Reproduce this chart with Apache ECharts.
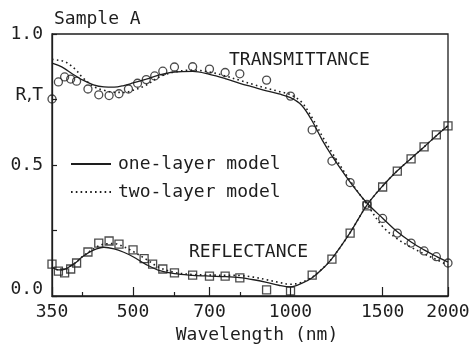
<!DOCTYPE html>
<html>
<head>
<meta charset="utf-8">
<script src="https://cdn.jsdelivr.net/npm/echarts@6/dist/echarts.min.js"></script>
<style>
html,body{margin:0;padding:0;background:#fff;}
#chart{width:471px;height:347px;}
</style>
</head>
<body>
<div id="chart"></div>
<script>
// Measured transmittance (circles)
var tWavelengths = [350, 360, 370, 380, 390, 410, 430, 450, 470, 490, 510, 530, 550, 570, 600, 650, 700, 750, 800, 900, 1000, 1100, 1200, 1300, 1400, 1500, 1600, 1700, 1800, 1900, 2000];
var tMeasured = [0.752, 0.817, 0.836, 0.828, 0.82, 0.79, 0.768, 0.765, 0.772, 0.79, 0.812, 0.826, 0.84, 0.858, 0.874, 0.875, 0.866, 0.853, 0.848, 0.824, 0.763, 0.634, 0.515, 0.433, 0.35, 0.296, 0.24, 0.202, 0.172, 0.15, 0.126];
// Measured reflectance (squares)
var rWavelengths = [350, 360, 370, 380, 390, 410, 430, 450, 470, 500, 525, 545, 570, 600, 650, 700, 750, 800, 900, 1000, 1100, 1200, 1300, 1400, 1500, 1600, 1700, 1800, 1900, 2000];
var rMeasured = [0.122, 0.095, 0.088, 0.103, 0.126, 0.168, 0.202, 0.21, 0.198, 0.176, 0.143, 0.122, 0.103, 0.088, 0.08, 0.076, 0.076, 0.069, 0.023, 0.019, 0.08, 0.141, 0.24, 0.344, 0.416, 0.477, 0.523, 0.569, 0.615, 0.649];
// Model curves
var modelWavelengths = [350, 360, 370, 380, 390, 400, 420, 440, 460, 480, 500, 530, 560, 600, 650, 700, 750, 800, 850, 900, 950, 1000, 1050, 1100, 1150, 1200, 1300, 1400, 1500, 1600, 1700, 1800, 1900, 2000];
var tOneLayer = [0.889, 0.880, 0.868, 0.852, 0.838, 0.825, 0.806, 0.798, 0.797, 0.803, 0.813, 0.828, 0.843, 0.855, 0.857, 0.846, 0.83, 0.812, 0.797, 0.783, 0.771, 0.757, 0.728, 0.668, 0.595, 0.535, 0.435, 0.355, 0.297, 0.245, 0.206, 0.176, 0.151, 0.129];
var tTwoLayer = [0.903, 0.900, 0.895, 0.880, 0.860, 0.835, 0.800, 0.785, 0.778, 0.777, 0.785, 0.805, 0.835, 0.855, 0.862, 0.855, 0.84, 0.823, 0.807, 0.793, 0.781, 0.768, 0.74, 0.68, 0.61, 0.548, 0.44, 0.35, 0.265, 0.218, 0.186, 0.161, 0.139, 0.118];
var rOneLayer = [0.11, 0.10, 0.102, 0.115, 0.13, 0.15, 0.175, 0.186, 0.18, 0.167, 0.15, 0.12, 0.098, 0.085, 0.079, 0.076, 0.074, 0.07, 0.062, 0.052, 0.041, 0.035, 0.048, 0.07, 0.103, 0.143, 0.242, 0.347, 0.42, 0.478, 0.525, 0.569, 0.612, 0.65];
var rTwoLayer = [0.11, 0.10, 0.102, 0.115, 0.13, 0.15, 0.18, 0.198, 0.2, 0.188, 0.17, 0.14, 0.11, 0.09, 0.082, 0.08, 0.079, 0.078, 0.072, 0.062, 0.052, 0.045, 0.052, 0.072, 0.104, 0.143, 0.242, 0.347, 0.42, 0.478, 0.525, 0.569, 0.612, 0.65];
// Axis ticks
var xMajorTicks = [350, 500, 700, 1000, 1500, 2000];
var xMinorTicks = [400, 600, 800];
var yTicks = [0, 0.25, 0.5, 0.75, 1.0];

function pairs(xs, ys) { return xs.map(function (x, i) { return [x, ys[i]]; }); }

var INK = '#1e1e1e';
var FONT = 'DejaVu Sans Mono';
var chart = echarts.init(document.getElementById('chart'), null, {renderer: 'canvas'});

var lineBase = {type: 'line', symbol: 'none', smooth: 0.35, xAxisIndex: 0, z: 2};

chart.setOption({
  backgroundColor: '#fff',
  animation: false,
  textStyle: {fontFamily: FONT, color: INK},
  title: {
    text: 'Sample A', left: 54, top: 10, padding: 0,
    textStyle: {fontFamily: FONT, fontSize: 18, fontWeight: 'normal', color: INK}
  },
  legend: {
    data: ['one-layer model', 'two-layer model'],
    orient: 'vertical', left: 70, top: 155, padding: 0,
    itemWidth: 40, itemHeight: 14, itemGap: 10,
    itemStyle: {opacity: 0},
    textStyle: {fontFamily: FONT, fontSize: 18, color: INK, lineHeight: 18, padding: [0, 0, 0, 2]},
    selectedMode: false
  },
  grid: {left: 52, right: 23, top: 34, bottom: 51, show: true, borderColor: INK, borderWidth: 1.3, backgroundColor: 'transparent', containLabel: false, outerBoundsMode: 'none'},
  xAxis: [{
    type: 'log', logBase: 10, min: 350, max: 2000,
    name: 'Wavelength (nm)', nameLocation: 'middle', nameGap: 30,
    nameTextStyle: {fontFamily: FONT, fontSize: 18, color: INK, padding: [0, 0, 0, 14]},
    axisLine: {show: true, lineStyle: {color: INK, width: 1.3}},
    axisTick: {show: true, inside: true, length: 9, customValues: xMajorTicks, lineStyle: {color: INK, width: 1.2}},
    axisLabel: {show: true, customValues: xMajorTicks, margin: 7, fontFamily: FONT, fontSize: 18, color: INK,
      formatter: function (v) { return String(Math.round(v)); }},
    splitLine: {show: false}, minorTick: {show: false}
  }, {
    type: 'log', logBase: 10, min: 350, max: 2000, position: 'bottom',
    axisLine: {show: false},
    axisTick: {show: true, inside: true, length: 4, customValues: xMinorTicks, lineStyle: {color: INK, width: 1.2}},
    axisLabel: {show: false},
    splitLine: {show: false}
  }],
  yAxis: {
    type: 'value', min: 0, max: 1, interval: 0.25,
    axisLine: {show: true, lineStyle: {color: INK, width: 1.3}},
    axisTick: {show: true, inside: true, length: 5, lineStyle: {color: INK, width: 1.2}},
    splitLine: {show: false},
    axisLabel: {
      margin: 9, fontFamily: FONT, fontSize: 18, color: INK,
      formatter: function (v) {
        if (v === 0) return '{z|0.0}';
        if (v === 0.5) return '0.5';
        if (v === 1) return '1.0';
        if (v === 0.75) return '{rt|R}{c|,}{rt|T}';
        return '';
      },
      rich: {
        z: {fontFamily: FONT, fontSize: 18, color: INK, padding: [0, 0, 14, 0]},
        rt: {fontFamily: FONT, fontSize: 18, color: INK, padding: [0, 0, 9, 0]},
        c: {fontFamily: 'DejaVu Sans', fontSize: 18, color: INK, padding: [0, 0, 9, 0]}
      }
    }
  },
  graphic: [
    {type: 'text', left: 229, top: 51, style: {text: 'TRANSMITTANCE', font: '18px "DejaVu Sans Mono"', fill: INK}},
    {type: 'text', left: 189, top: 243, style: {text: 'REFLECTANCE', font: '18px "DejaVu Sans Mono"', fill: INK}}
  ],
  series: [
    Object.assign({}, lineBase, {name: 'one-layer model', data: pairs(modelWavelengths, tOneLayer), lineStyle: {color: INK, width: 1.3, type: 'solid'}, itemStyle: {color: INK}}),
    Object.assign({}, lineBase, {name: 'one-layer model', data: pairs(modelWavelengths, rOneLayer), lineStyle: {color: INK, width: 1.3, type: 'solid'}, itemStyle: {color: INK}}),
    Object.assign({}, lineBase, {name: 'two-layer model', data: pairs(modelWavelengths, tTwoLayer), lineStyle: {color: INK, width: 1.6, type: [1.6, 3.2]}, itemStyle: {color: INK}}),
    Object.assign({}, lineBase, {name: 'two-layer model', data: pairs(modelWavelengths, rTwoLayer), lineStyle: {color: INK, width: 1.6, type: [1.6, 3.2]}, itemStyle: {color: INK}}),
    {type: 'scatter', name: 'T measured', data: pairs(tWavelengths, tMeasured), symbol: 'circle', symbolSize: 8, itemStyle: {color: 'rgba(255,255,255,0)', borderColor: INK, borderWidth: 1.3}, z: 3},
    {type: 'scatter', name: 'R measured', data: pairs(rWavelengths, rMeasured), symbol: 'rect', symbolSize: 8, itemStyle: {color: 'rgba(255,255,255,0)', borderColor: INK, borderWidth: 1.3}, z: 3}
  ]
});
</script>
</body>
</html>
